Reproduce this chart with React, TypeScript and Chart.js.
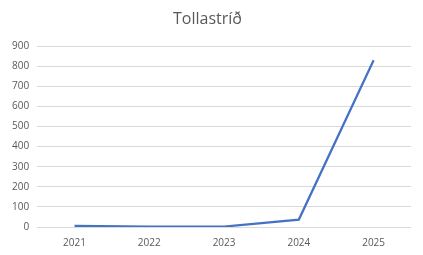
import React, { useEffect, useRef } from "react";
import { Chart, registerables } from "chart.js";

Chart.register(...registerables);

const title = "Tollastríð";
const categories = ["2021", "2022", "2023", "2024", "2025"];
const values = [6, 2, 2, 37, 830];
const yMin = 0;
const yMax = 900;
const yStep = 100;

export default function App() {
  const ref = useRef<HTMLCanvasElement | null>(null);
  useEffect(() => {
    document.body.style.margin = "0";
    const ctx = ref.current!;
    const chart = new Chart(ctx, {
      type: "line",
      data: {
        labels: categories,
        datasets: [
          {
            data: values,
            borderColor: "#4472C4",
            backgroundColor: "#4472C4",
            borderWidth: 2.25,
            pointRadius: 0,
            tension: 0,
          },
        ],
      },
      options: {
        responsive: false,
        animation: false,
        layout: { padding: { left: 4, right: 12, top: 10, bottom: 4 } },
        plugins: {
          legend: { display: false },
          tooltip: { enabled: false },
          title: {
            display: true,
            text: title,
            color: "#595959",
            font: { family: "'Open Sans', 'Liberation Sans', sans-serif", size: 16, weight: "normal" },
            padding: { top: 0, bottom: 17 },
          },
        },
        scales: {
          x: {
            offset: true,
            grid: { display: false },
            border: { display: false },
            ticks: {
              color: "#595959",
              font: { family: "'Open Sans', 'Liberation Sans', sans-serif", size: 10 },
              padding: 2,
              maxRotation: 0,
            },
          },
          y: {
            min: yMin,
            max: yMax,
            ticks: {
              stepSize: yStep,
              color: "#595959",
              font: { family: "'Open Sans', 'Liberation Sans', sans-serif", size: 10 },
              padding: 8,
            },
            grid: { color: "#d9d9d9", lineWidth: 1, drawTicks: false },
            border: { display: false },
          },
        },
      },
    });
    return () => chart.destroy();
  }, []);
  return <canvas ref={ref} width={423} height={255} style={{ display: "block" }} />;
}
